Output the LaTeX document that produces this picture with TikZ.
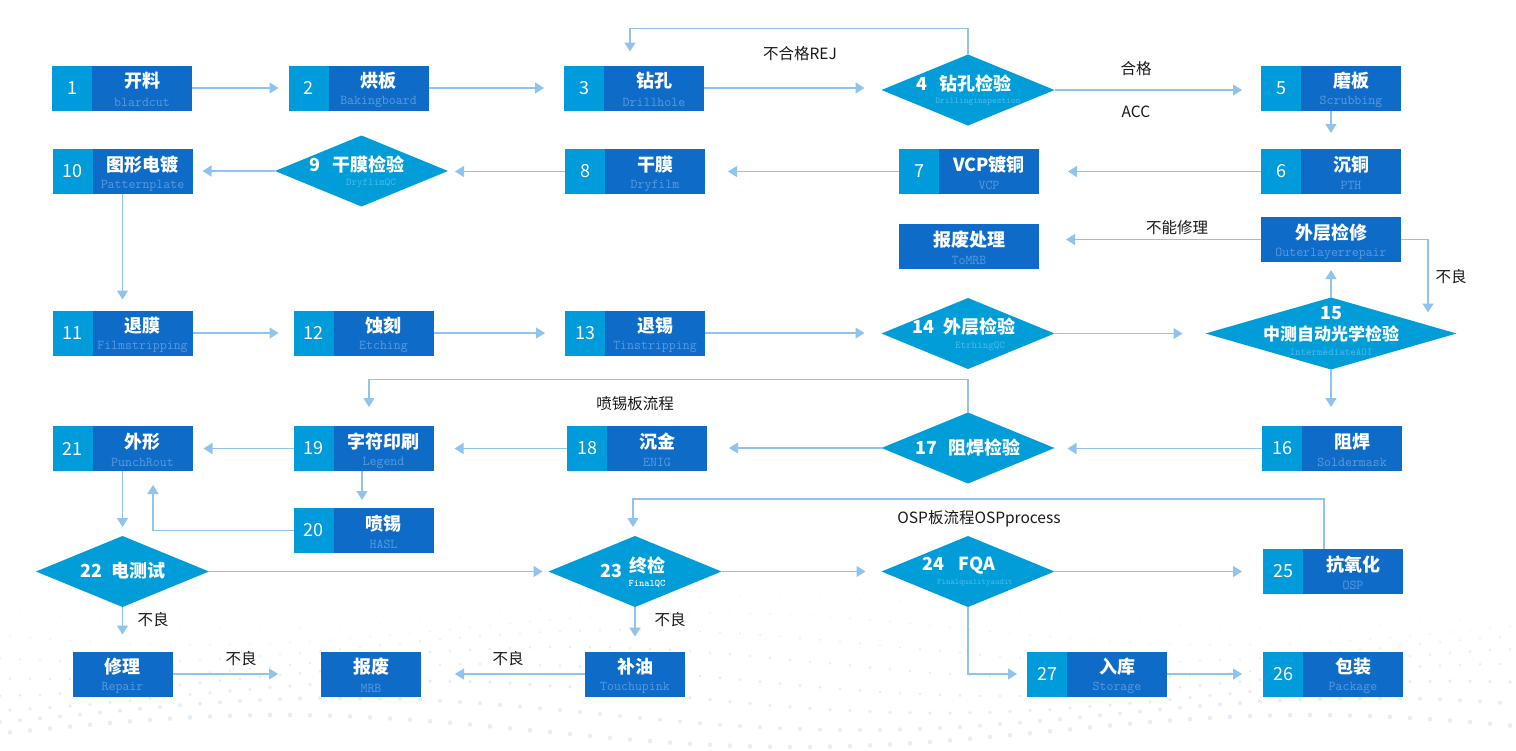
\documentclass[tikz,border=0pt]{standalone}
\usepackage{fontspec}
\newfontfamily\cjk{Noto Sans CJK SC}
\usetikzlibrary{shapes.geometric,arrows.meta,calc}
\definecolor{numc}{RGB}{0,155,218}
\definecolor{darkc}{RGB}{14,108,200}
\definecolor{diac}{RGB}{0,157,217}
\definecolor{linec}{RGB}{144,196,240}
\definecolor{subc}{RGB}{90,154,224}
\definecolor{dsubc}{RGB}{78,186,236}
\definecolor{dotc}{RGB}{230,238,246}
\definecolor{labc}{RGB}{25,25,25}
\tikzset{
 pb/.style={fill=darkc, draw=none, minimum width=140pt, minimum height=45pt, inner sep=0pt, outer sep=0pt},
 dia/.style={diamond, fill=diac, draw=none, minimum width=173pt, minimum height=71pt, inner sep=0pt, outer sep=0pt},
 numt/.style={text=white, font=\cjk\fontsize{18}{20}\selectfont, inner sep=0pt},
 tit/.style={text=white, font=\cjk\bfseries\fontsize{18}{20}\selectfont, inner sep=0pt},
 subt/.style={text=subc, font=\ttfamily\fontsize{13.5}{14}\selectfont, inner sep=0pt},
 dsub/.style={text=dsubc, font=\ttfamily\fontsize{9.5}{10}\selectfont, inner sep=0pt},
 lab/.style={text=labc, font=\cjk\fontsize{15.5}{17}\selectfont, inner sep=0pt},
 conn/.style={draw=linec, line width=1.4pt, -{Triangle[length=9pt,width=11pt]}},
}
\newcommand\pbox[6]{%
 \node[pb] (#1) at (#2,#3) {};
 \fill[numc] (#1.north west) rectangle ($(#1.south west)+(40,0)$);
 \node[numt] (#1-n) at ($(#1.west)+(20,0)$) {#4};
 \node[tit] (#1-t) at ($(#1.center)+(20,-7)$) {#5};
 \node[subt] (#1-s) at ($(#1.center)+(20,14)$) {#6};
}
\newcommand\plainbox[6]{%
 \node[pb, minimum width=#4pt] (#1) at (#2,#3) {};
 \node[tit] (#1-t) at ($(#1.center)+(0,-7)$) {#5};
 \node[subt] (#1-s) at ($(#1.center)+(0,14)$) {#6};
}
\begin{document}
\begin{tikzpicture}[x=1pt,y=-1pt]
\useasboundingbox (0,0) rectangle (1516,750);
\fill[white] (0,0) rectangle (1516,750);
% background dots
\foreach \i in {0,...,75} {
  \foreach \j in {0,...,7} {
    \pgfmathsetmacro\xx{\i*20 + 10*mod(\j,2)}
    \pgfmathsetmacro\yy{612 + \j*17 + 16*sin(\i*7 + \j*25)}
    \pgfmathsetmacro\rr{0.6 + 0.25*\j}
    \fill[dotc] (\xx,\yy) circle (\rr);
  }
}
% row 1
\pbox{b1}{122}{88}{1}{开料}{blardcut}
\pbox{b2}{358.5}{88}{2}{烘板}{Bakingboard}
\pbox{b3}{634}{88}{3}{钻孔}{Drillhole}
\node[dia] (d4) at (968,90) {};
\node[tit] (d4-t) at (964,84) {4\hspace{12pt}钻孔检验};
\node[dsub, font=\ttfamily\fontsize{9}{10}\selectfont] (d4-s) at (978,102) {Drillinginspestion};
\pbox{b5}{1331}{88}{5}{磨板}{Scrubbing}
% row 2
\pbox{b6}{1331}{171.5}{6}{沉铜}{PTH}
\pbox{b7}{969}{171.5}{7}{VCP镀铜}{VCP}
\pbox{b8}{635}{171.5}{8}{干膜}{Dryfilm}
\node[dia] (d9) at (361.5,171) {};
\node[tit] (d9-t) at (357,165) {9\hspace{12pt}干膜检验};
\node[dsub, font=\ttfamily\fontsize{10.5}{11}\selectfont] (d9-s) at (371,183) {DryflimQC};
\pbox{b10}{122.5}{171.5}{10}{图形电镀}{Patternplate}
% repair row
\plainbox{rep}{1331}{239.5}{140}{外层检修}{Outerlayerrepair}
\plainbox{scrap}{969}{246.5}{140}{报废处理}{ToMRB}
% row 3
\pbox{b11}{122.5}{333}{11}{退膜}{Filmstripping}
\pbox{b12}{363.5}{333}{12}{蚀刻}{Etching}
\pbox{b13}{635}{333}{13}{退锡}{Tinstripping}
\node[dia] (d14) at (968,333.5) {};
\node[tit] (d14-t) at (964,327) {14\hspace{10pt}外层检验};
\node[dsub, font=\ttfamily\fontsize{10.5}{11}\selectfont] (d14-s) at (980,346) {EtrhingQC};
\node[dia, minimum width=251pt, minimum height=72pt] (d15) at (1331,333.5) {};
\node[tit] (d15-n) at (1331,313) {15};
\node[tit, font=\cjk\bfseries\fontsize{17}{19}\selectfont] (d15-t) at (1331,334) {中测自动光学检验};
\node[dsub, font=\ttfamily\fontsize{10.5}{11}\selectfont] (d15-s) at (1331,352) {IntermediateAOI};
% row 4
\pbox{b16}{1332}{448.5}{16}{阻焊}{Soldermask}
\node[dia] (d17) at (968,448) {};
\node[tit] (d17-t) at (968,448) {17\hspace{12pt}阻焊检验};
\pbox{b18}{637}{448.5}{18}{沉金}{ENIG}
\pbox{b19}{363.5}{448.5}{19}{字符印刷}{Legend}
\pbox{b21}{122.5}{448.5}{21}{外形}{PunchRout}
\pbox{b20}{363.5}{530.5}{20}{喷锡}{HASL}
% row 5
\node[dia] (d22) at (122.5,571.5) {};
\node[tit] (d22-t) at (123,571) {22\hspace{10pt}电测试};
\node[dia] (d23) at (635,571.5) {};
\node[tit] (d23-n) at (611,571) {23};
\node[tit] (d23-t) at (647,566) {终检};
\node[text=white, font=\ttfamily\bfseries\fontsize{10}{11}\selectfont, inner sep=0pt] (d23-s) at (647,584) {FinalQC};
\node[dia] (d24) at (968,571.5) {};
\node[tit] (d24-t) at (959,566) {24\hspace{14pt}FQA};
\node[dsub, font=\ttfamily\fontsize{8.5}{9}\selectfont] (d24-s) at (975,583) {Finalqualityaudit};
\pbox{b25}{1333}{571.5}{25}{抗氧化}{OSP}
% row 6
\plainbox{rp}{122.5}{674}{100}{修理}{Repair}
\plainbox{mrb}{371}{674}{100}{报废}{MRB}
\plainbox{tu}{635}{674}{100}{补油}{Touchupink}
\pbox{b27}{1097}{674}{27}{入库}{Storage}
\pbox{b26}{1333}{674}{26}{包装}{Package}
% connectors
\draw[conn,shorten >=10pt] (b1.east) -- (b2.west);
\draw[conn,shorten >=20pt] (b2.east) -- (b3.west);
\draw[conn,shorten >=17pt] (b3.east) -- (b3.east -| d4.west);
\draw[conn,shorten >=19pt] (d4.east) -- (d4.east -| b5.west);
\draw[conn,shorten >=14pt] (d4.north) -- ++(0,-26) -| ($(b3.north)+(-4,0)$);
\draw[conn,shorten >=16pt] (b5.south) -- (b6.north);
\draw[conn,shorten >=29pt] (b6.west) -- (b7.east);
\draw[conn,shorten >=23pt] (b7.west) -- (b8.east);
\draw[conn,shorten >=7pt] (b8.west) -- (b8.west -| d9.east);
\draw[conn,shorten >=10pt] (d9.west) -- (d9.west -| b10.east);
\draw[conn,shorten >=11pt] (b10.south) -- (b11.north);
\draw[conn,shorten >=15pt] (b11.east) -- (b12.west);
\draw[conn,shorten >=20pt] (b12.east) -- (b13.west);
\draw[conn,shorten >=17pt] (b13.east) -- (b13.east -| d14.west);
\draw[conn,shorten >=23pt] (d14.east) -- (d15.west);
\draw[conn,shorten >=8pt] (d15.north) -- (rep.south);
\draw[conn,shorten >=21pt] (rep.east) -| ($(d15.center)+(97,0)$);
\draw[conn,shorten >=27pt] (rep.west) -- (rep.west -| scrap.east);
\draw[conn,shorten >=19pt] (d15.south) -- (d15.south |- b16.north);
\draw[conn,shorten >=13pt] (b16.west) -- (b16.west -| d17.east);
\draw[conn,shorten >=22pt] (d17.west) -- (d17.west -| b18.east);
\draw[conn,shorten >=21pt] (b18.west) -- (b18.west -| b19.east);
\draw[conn,shorten >=19pt] (d17.north) -- ++(0,-33) -| ($(b19.north)+(5.5,0)$);
\draw[conn,shorten >=11pt] (b19.west) -- (b21.east);
\draw[conn,shorten >=8pt] ($(b19.south)+(-1.5,0)$) -- ($(b20.north)+(-1.5,0)$);
\draw[conn,shorten >=14pt] (b20.west) -| ($(b21.south)+(30.5,0)$);
\draw[conn,shorten >=9pt] (b21.south) -- (d22.north);
\draw[conn,shorten >=6pt] (d22.east) -- (d23.west);
\draw[conn,shorten >=16pt] (d23.east) -- (d24.west);
\draw[conn,shorten >=21pt] (d24.east) -- (d24.east -| b25.west);
\draw[conn,shorten >=9pt] ($(b25.north)+(-9,0)$) -- ++(0,-50) -| ($(d23.north)+(-2,0)$);
\draw[conn,shorten >=10pt] (d24.south) |- (b27.west);
\draw[conn,shorten >=21pt] (b27.east) -- (b26.west);
\draw[conn,shorten >=17pt] (d22.south) -- (rp.north);
\draw[conn,shorten >=43pt] (rp.east) -- (mrb.west);
\draw[conn,shorten >=15pt] (d23.south) -- (tu.north);
\draw[conn,shorten >=34pt] (tu.west) -- (mrb.east);
% labels
\node[lab] (l1) at (800,54) {不合格REJ};
\node[lab] (l2) at (1136,69) {合格};
\node[lab] (l3) at (1136,112) {ACC};
\node[lab] (l4) at (1177,228) {不能修理};
\node[lab] (l5) at (1451,277) {不良};
\node[lab] (l6) at (635,404) {喷锡板流程};
\node[lab] (l7) at (979,519) {OSP板流程OSPprocess};
\node[lab] (l8) at (153,620) {不良};
\node[lab] (l9) at (241,659) {不良};
\node[lab] (l10) at (508,659) {不良};
\node[lab] (l11) at (670,620) {不良};
\end{tikzpicture}
\end{document}
